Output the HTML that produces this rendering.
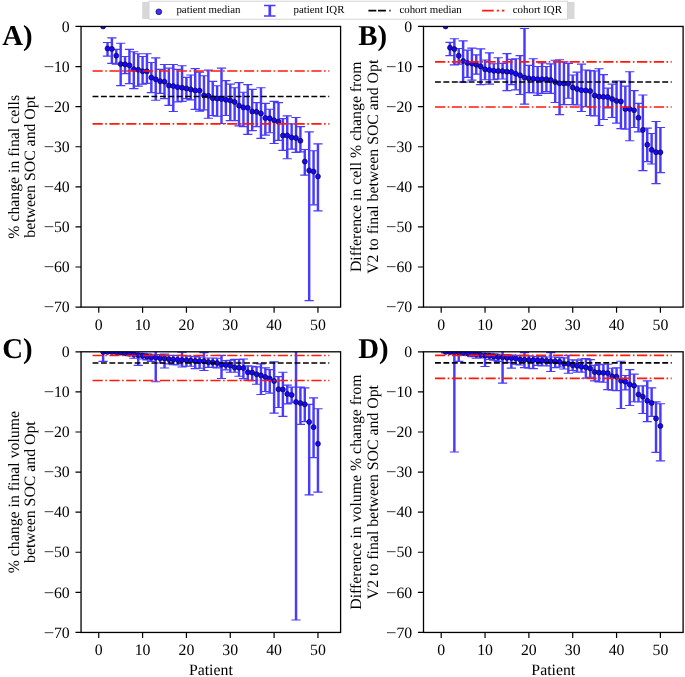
<!DOCTYPE html>
<html lang="en"><head><meta charset="utf-8"><title>Figure</title>
<style>html,body{margin:0;padding:0;background:#fff}body{width:685px;height:677px;overflow:hidden}svg{display:block;will-change:transform}text{font-family:"Liberation Serif", "DejaVu Serif", serif;fill:#000;text-rendering:geometricPrecision}</style></head><body>
<svg width="685" height="677" viewBox="0 0 685 677">
<rect width="685" height="677" fill="#fff"/>
<clipPath id="c00"><rect x="81.05" y="26.45" width="259.55" height="280.65"/></clipPath>
<g clip-path="url(#c00)">
<path d="M107.52 42.49V56.12M111.9 37.88V63.34M116.29 49.3V64.14M120.67 43.29V85.59M125.05 56.52V73.64M129.44 49.3V83.66M133.82 51.71V88.59M138.21 53.71V86.19M142.59 56.52V84.18M146.97 53.71V83.38M151.36 62.53V92.6M155.74 57.92V100.22M160.13 69.35V93.41M164.51 64.54V98.62M168.89 68.15V105.43M173.28 64.54V111.45M177.66 69.35V101.82M182.05 65.74V101.42M186.43 77.37V98.62M190.81 74.96V99.82M195.2 68.55V109.44M199.58 72.16V111.05M203.97 75.76V109.84M208.35 70.15V118.26M212.73 81.38V115.46M217.12 85.79V116.26M221.5 68.15V123.47M225.89 80.58V115.46M230.27 84.18V120.67M234.65 87.79V120.67M239.04 82.58V125.88M243.42 92.2V126.68M247.81 84.58V134.3M252.19 89.4V130.69M256.57 102.63V126.68M260.96 87.79V138.31M265.34 103.43V135.1M269.73 109.24V132.7M274.11 101.42V143.52M278.49 102.63V140.31M282.88 118.66V150.34M287.26 115.86V158.76M291.65 123.88V149.13M296.03 117.46V152.34M300.41 126.68V151.94M304.8 149.54V175.19M309.18 131.89V300.69M313.57 150.74V204.86M317.95 143.92V210.88" fill="none" stroke="rgb(72,58,255)" stroke-width="2.45"/>
<path d="M102.92 42.49H112.12M102.92 56.12H112.12M107.3 37.88H116.5M107.3 63.34H116.5M111.69 49.3H120.89M111.69 64.14H120.89M116.07 43.29H125.27M116.07 85.59H125.27M120.45 56.52H129.65M120.45 73.64H129.65M124.84 49.3H134.04M124.84 83.66H134.04M129.22 51.71H138.42M129.22 88.59H138.42M133.61 53.71H142.81M133.61 86.19H142.81M137.99 56.52H147.19M137.99 84.18H147.19M142.37 53.71H151.57M142.37 83.38H151.57M146.76 62.53H155.96M146.76 92.6H155.96M151.14 57.92H160.34M151.14 100.22H160.34M155.53 69.35H164.73M155.53 93.41H164.73M159.91 64.54H169.11M159.91 98.62H169.11M164.29 68.15H173.49M164.29 105.43H173.49M168.68 64.54H177.88M168.68 111.45H177.88M173.06 69.35H182.26M173.06 101.82H182.26M177.45 65.74H186.65M177.45 101.42H186.65M181.83 77.37H191.03M181.83 98.62H191.03M186.21 74.96H195.41M186.21 99.82H195.41M190.6 68.55H199.8M190.6 109.44H199.8M194.98 72.16H204.18M194.98 111.05H204.18M199.37 75.76H208.57M199.37 109.84H208.57M203.75 70.15H212.95M203.75 118.26H212.95M208.13 81.38H217.33M208.13 115.46H217.33M212.52 85.79H221.72M212.52 116.26H221.72M216.9 68.15H226.1M216.9 123.47H226.1M221.29 80.58H230.49M221.29 115.46H230.49M225.67 84.18H234.87M225.67 120.67H234.87M230.05 87.79H239.25M230.05 120.67H239.25M234.44 82.58H243.64M234.44 125.88H243.64M238.82 92.2H248.02M238.82 126.68H248.02M243.21 84.58H252.41M243.21 134.3H252.41M247.59 89.4H256.79M247.59 130.69H256.79M251.97 102.63H261.17M251.97 126.68H261.17M256.36 87.79H265.56M256.36 138.31H265.56M260.74 103.43H269.94M260.74 135.1H269.94M265.13 109.24H274.33M265.13 132.7H274.33M269.51 101.42H278.71M269.51 143.52H278.71M273.89 102.63H283.09M273.89 140.31H283.09M278.28 118.66H287.48M278.28 150.34H287.48M282.66 115.86H291.86M282.66 158.76H291.86M287.05 123.88H296.25M287.05 149.13H296.25M291.43 117.46H300.63M291.43 152.34H300.63M295.81 126.68H305.01M295.81 151.94H305.01M300.2 149.54H309.4M300.2 175.19H309.4M304.58 131.89H313.78M304.58 300.69H313.78M308.97 150.74H318.17M308.97 204.86H318.17M313.35 143.92H322.55M313.35 210.88H322.55" fill="none" stroke="rgb(72,58,255)" stroke-width="1.15"/>
</g>
<g clip-path="url(#c00)" fill="rgb(24,8,250)" stroke="#000018" stroke-width="0.6">
<circle cx="103.13" cy="26.45" r="2.5"/>
<circle cx="107.52" cy="48.5" r="2.5"/>
<circle cx="111.9" cy="48.9" r="2.5"/>
<circle cx="116.29" cy="55.64" r="2.5"/>
<circle cx="120.67" cy="64.06" r="2.5"/>
<circle cx="125.05" cy="64.34" r="2.5"/>
<circle cx="129.44" cy="65.34" r="2.5"/>
<circle cx="133.82" cy="69.19" r="2.5"/>
<circle cx="138.21" cy="69.75" r="2.5"/>
<circle cx="142.59" cy="71.23" r="2.5"/>
<circle cx="146.97" cy="71.35" r="2.5"/>
<circle cx="151.36" cy="77.53" r="2.5"/>
<circle cx="155.74" cy="79.29" r="2.5"/>
<circle cx="160.13" cy="81.18" r="2.5"/>
<circle cx="164.51" cy="81.66" r="2.5"/>
<circle cx="168.89" cy="85.59" r="2.5"/>
<circle cx="173.28" cy="86.03" r="2.5"/>
<circle cx="177.66" cy="87.15" r="2.5"/>
<circle cx="182.05" cy="87.67" r="2.5"/>
<circle cx="186.43" cy="88.39" r="2.5"/>
<circle cx="190.81" cy="89.4" r="2.5"/>
<circle cx="195.2" cy="90.48" r="2.5"/>
<circle cx="199.58" cy="90.6" r="2.5"/>
<circle cx="203.97" cy="95.41" r="2.5"/>
<circle cx="208.35" cy="95.81" r="2.5"/>
<circle cx="212.73" cy="98.22" r="2.5"/>
<circle cx="217.12" cy="98.54" r="2.5"/>
<circle cx="221.5" cy="99.02" r="2.5"/>
<circle cx="225.89" cy="99.82" r="2.5"/>
<circle cx="230.27" cy="100.42" r="2.5"/>
<circle cx="234.65" cy="102.03" r="2.5"/>
<circle cx="239.04" cy="105.63" r="2.5"/>
<circle cx="243.42" cy="107.44" r="2.5"/>
<circle cx="247.81" cy="107.84" r="2.5"/>
<circle cx="252.19" cy="111.45" r="2.5"/>
<circle cx="256.57" cy="111.85" r="2.5"/>
<circle cx="260.96" cy="113.45" r="2.5"/>
<circle cx="265.34" cy="118.06" r="2.5"/>
<circle cx="269.73" cy="118.26" r="2.5"/>
<circle cx="274.11" cy="120.27" r="2.5"/>
<circle cx="278.49" cy="121.67" r="2.5"/>
<circle cx="282.88" cy="135.5" r="2.5"/>
<circle cx="287.26" cy="135.5" r="2.5"/>
<circle cx="291.65" cy="137.51" r="2.5"/>
<circle cx="296.03" cy="137.91" r="2.5"/>
<circle cx="300.41" cy="140.71" r="2.5"/>
<circle cx="304.8" cy="161.56" r="2.5"/>
<circle cx="309.18" cy="170.38" r="2.5"/>
<circle cx="313.57" cy="171.59" r="2.5"/>
<circle cx="317.95" cy="176.4" r="2.5"/>
</g>
<g clip-path="url(#c00)">
<path d="M92.55 96.49H329.25" stroke="#000" stroke-width="1.6" stroke-dasharray="5.876 2.541" fill="none"/>
<path d="M92.55 70.95H329.25" stroke="#ff1a0a" stroke-width="1.6" stroke-dasharray="10.163 2.541 1.588 2.541" fill="none"/>
<path d="M92.55 123.88H329.25" stroke="#ff1a0a" stroke-width="1.6" stroke-dasharray="10.163 2.541 1.588 2.541" fill="none"/>
</g>
<rect x="81.05" y="26.45" width="259.55" height="280.65" fill="none" stroke="#000" stroke-width="1.3"/>
<path d="M98.75 307.1v5.6M142.59 307.1v5.6M186.43 307.1v5.6M230.27 307.1v5.6M274.11 307.1v5.6M317.95 307.1v5.6M81.05 26.45h-5.6M81.05 66.54h-5.6M81.05 106.64h-5.6M81.05 146.73h-5.6M81.05 186.82h-5.6M81.05 226.91h-5.6M81.05 267.01h-5.6M81.05 307.1h-5.6" stroke="#000" stroke-width="1.2" fill="none"/>
<g font-size="15.8">
<text x="98.75" y="329.8" text-anchor="middle">0</text>
<text x="142.59" y="329.8" text-anchor="middle">10</text>
<text x="186.43" y="329.8" text-anchor="middle">20</text>
<text x="230.27" y="329.8" text-anchor="middle">30</text>
<text x="274.11" y="329.8" text-anchor="middle">40</text>
<text x="317.95" y="329.8" text-anchor="middle">50</text>
<text x="69.75" y="31.65" text-anchor="end">0</text>
<text x="69.75" y="71.74" text-anchor="end">10</text>
<text x="43.65" y="71.74" textLength="10.5" lengthAdjust="spacingAndGlyphs">−</text>
<text x="69.75" y="111.84" text-anchor="end">20</text>
<text x="43.65" y="111.84" textLength="10.5" lengthAdjust="spacingAndGlyphs">−</text>
<text x="69.75" y="151.93" text-anchor="end">30</text>
<text x="43.65" y="151.93" textLength="10.5" lengthAdjust="spacingAndGlyphs">−</text>
<text x="69.75" y="192.02" text-anchor="end">40</text>
<text x="43.65" y="192.02" textLength="10.5" lengthAdjust="spacingAndGlyphs">−</text>
<text x="69.75" y="232.11" text-anchor="end">50</text>
<text x="43.65" y="232.11" textLength="10.5" lengthAdjust="spacingAndGlyphs">−</text>
<text x="69.75" y="272.21" text-anchor="end">60</text>
<text x="43.65" y="272.21" textLength="10.5" lengthAdjust="spacingAndGlyphs">−</text>
<text x="69.75" y="312.3" text-anchor="end">70</text>
<text x="43.65" y="312.3" textLength="10.5" lengthAdjust="spacingAndGlyphs">−</text>
</g>
<text transform="translate(18.65 166.78) rotate(-90)" font-size="15.8" text-anchor="middle">% change in final cells</text>
<text transform="translate(35.25 166.78) rotate(-90)" font-size="15.8" text-anchor="middle">between SOC and Opt</text>
<text x="2.2" y="45.4" font-size="28.8" font-weight="bold">A)</text>
<clipPath id="c10"><rect x="423.5" y="26.45" width="259.6" height="280.65"/></clipPath>
<g clip-path="url(#c10)">
<path d="M449.97 42.37V55.6M454.35 38.76V64.82M458.74 48.5V64.14M463.12 40.88V82.18M467.5 50.1V77.37M471.89 48.1V80.17M476.27 54.8V74.16M480.66 48.9V84.58M485.04 59.97V79.77M489.42 52.91V84.18M493.81 63.74V79.77M498.19 57.72V78.97M502.58 63.34V78.97M506.96 53.59V90.6M511.34 59.33V84.58M515.73 58.76V89.8M520.11 55.64V94.45M524.5 28.45V104.07M528.88 65.34V92.6M533.26 58.76V93M537.65 66.54V95.41M542.03 62.93V93.41M546.42 66.54V91.64M550.8 63.94V93.41M555.18 60.29V102.51M559.57 59.73V114.65M563.95 61.73V104.63M568.34 63.34V98.22M572.72 74.96V104.63M577.1 72.16V105.03M581.49 64.14V111.45M585.87 69.95V106.64M590.26 70.55V115.46M594.64 70.95V115.86M599.02 68.75V125.48M603.41 74.56V119.47M607.79 88.19V107.84M612.18 84.18V117.46M616.56 80.98V123.07M620.94 80.98V128.69M625.33 86.19V129.09M629.71 71.75V140.71M634.1 90.6V127.48M638.48 103.43V131.89M642.86 95.01V170.58M647.25 128.09V161.56M651.63 133.5V163.97M656.02 121.47V183.61M660.4 127.48V172.59" fill="none" stroke="rgb(72,58,255)" stroke-width="2.45"/>
<path d="M445.37 42.37H454.57M445.37 55.6H454.57M449.75 38.76H458.95M449.75 64.82H458.95M454.14 48.5H463.34M454.14 64.14H463.34M458.52 40.88H467.72M458.52 82.18H467.72M462.9 50.1H472.1M462.9 77.37H472.1M467.29 48.1H476.49M467.29 80.17H476.49M471.67 54.8H480.87M471.67 74.16H480.87M476.06 48.9H485.26M476.06 84.58H485.26M480.44 59.97H489.64M480.44 79.77H489.64M484.82 52.91H494.02M484.82 84.18H494.02M489.21 63.74H498.41M489.21 79.77H498.41M493.59 57.72H502.79M493.59 78.97H502.79M497.98 63.34H507.18M497.98 78.97H507.18M502.36 53.59H511.56M502.36 90.6H511.56M506.74 59.33H515.94M506.74 84.58H515.94M511.13 58.76H520.33M511.13 89.8H520.33M515.51 55.64H524.71M515.51 94.45H524.71M519.9 28.45H529.1M519.9 104.07H529.1M524.28 65.34H533.48M524.28 92.6H533.48M528.66 58.76H537.86M528.66 93H537.86M533.05 66.54H542.25M533.05 95.41H542.25M537.43 62.93H546.63M537.43 93.41H546.63M541.82 66.54H551.02M541.82 91.64H551.02M546.2 63.94H555.4M546.2 93.41H555.4M550.58 60.29H559.78M550.58 102.51H559.78M554.97 59.73H564.17M554.97 114.65H564.17M559.35 61.73H568.55M559.35 104.63H568.55M563.74 63.34H572.94M563.74 98.22H572.94M568.12 74.96H577.32M568.12 104.63H577.32M572.5 72.16H581.7M572.5 105.03H581.7M576.89 64.14H586.09M576.89 111.45H586.09M581.27 69.95H590.47M581.27 106.64H590.47M585.66 70.55H594.86M585.66 115.46H594.86M590.04 70.95H599.24M590.04 115.86H599.24M594.42 68.75H603.62M594.42 125.48H603.62M598.81 74.56H608.01M598.81 119.47H608.01M603.19 88.19H612.39M603.19 107.84H612.39M607.58 84.18H616.78M607.58 117.46H616.78M611.96 80.98H621.16M611.96 123.07H621.16M616.34 80.98H625.54M616.34 128.69H625.54M620.73 86.19H629.93M620.73 129.09H629.93M625.11 71.75H634.31M625.11 140.71H634.31M629.5 90.6H638.7M629.5 127.48H638.7M633.88 103.43H643.08M633.88 131.89H643.08M638.26 95.01H647.46M638.26 170.58H647.46M642.65 128.09H651.85M642.65 161.56H651.85M647.03 133.5H656.23M647.03 163.97H656.23M651.42 121.47H660.62M651.42 183.61H660.62M655.8 127.48H665M655.8 172.59H665" fill="none" stroke="rgb(72,58,255)" stroke-width="1.15"/>
</g>
<g clip-path="url(#c10)" fill="rgb(24,8,250)" stroke="#000018" stroke-width="0.6">
<circle cx="445.58" cy="26.45" r="2.5"/>
<circle cx="449.97" cy="47.7" r="2.5"/>
<circle cx="454.35" cy="49.1" r="2.5"/>
<circle cx="458.74" cy="55.72" r="2.5"/>
<circle cx="463.12" cy="60.93" r="2.5"/>
<circle cx="467.5" cy="62.93" r="2.5"/>
<circle cx="471.89" cy="63.58" r="2.5"/>
<circle cx="476.27" cy="64.82" r="2.5"/>
<circle cx="480.66" cy="66.38" r="2.5"/>
<circle cx="485.04" cy="69.35" r="2.5"/>
<circle cx="489.42" cy="69.99" r="2.5"/>
<circle cx="493.81" cy="70.79" r="2.5"/>
<circle cx="498.19" cy="70.95" r="2.5"/>
<circle cx="502.58" cy="71.15" r="2.5"/>
<circle cx="506.96" cy="71.67" r="2.5"/>
<circle cx="511.34" cy="71.88" r="2.5"/>
<circle cx="515.73" cy="73.76" r="2.5"/>
<circle cx="520.11" cy="75.28" r="2.5"/>
<circle cx="524.5" cy="77.57" r="2.5"/>
<circle cx="528.88" cy="78.41" r="2.5"/>
<circle cx="533.26" cy="78.73" r="2.5"/>
<circle cx="537.65" cy="79.13" r="2.5"/>
<circle cx="542.03" cy="79.13" r="2.5"/>
<circle cx="546.42" cy="79.25" r="2.5"/>
<circle cx="550.8" cy="79.93" r="2.5"/>
<circle cx="555.18" cy="82.02" r="2.5"/>
<circle cx="559.57" cy="83.26" r="2.5"/>
<circle cx="563.95" cy="83.38" r="2.5"/>
<circle cx="568.34" cy="83.62" r="2.5"/>
<circle cx="572.72" cy="87.55" r="2.5"/>
<circle cx="577.1" cy="88.99" r="2.5"/>
<circle cx="581.49" cy="90.2" r="2.5"/>
<circle cx="585.87" cy="90.44" r="2.5"/>
<circle cx="590.26" cy="91" r="2.5"/>
<circle cx="594.64" cy="95.41" r="2.5"/>
<circle cx="599.02" cy="96.61" r="2.5"/>
<circle cx="603.41" cy="96.85" r="2.5"/>
<circle cx="607.79" cy="97.01" r="2.5"/>
<circle cx="612.18" cy="99.02" r="2.5"/>
<circle cx="616.56" cy="100.9" r="2.5"/>
<circle cx="620.94" cy="101.42" r="2.5"/>
<circle cx="625.33" cy="109.04" r="2.5"/>
<circle cx="629.71" cy="108.88" r="2.5"/>
<circle cx="634.1" cy="110.24" r="2.5"/>
<circle cx="638.48" cy="117.66" r="2.5"/>
<circle cx="642.86" cy="129.89" r="2.5"/>
<circle cx="647.25" cy="144.72" r="2.5"/>
<circle cx="651.63" cy="149.82" r="2.5"/>
<circle cx="656.02" cy="152.18" r="2.5"/>
<circle cx="660.4" cy="152.34" r="2.5"/>
</g>
<g clip-path="url(#c10)">
<path d="M435 81.98H671.7" stroke="#000" stroke-width="1.6" stroke-dasharray="5.876 2.541" fill="none"/>
<path d="M435 61.85H671.7" stroke="#ff1a0a" stroke-width="1.6" stroke-dasharray="10.163 2.541 1.588 2.541" fill="none"/>
<path d="M435 107.04H671.7" stroke="#ff1a0a" stroke-width="1.6" stroke-dasharray="10.163 2.541 1.588 2.541" fill="none"/>
</g>
<rect x="423.5" y="26.45" width="259.6" height="280.65" fill="none" stroke="#000" stroke-width="1.3"/>
<path d="M441.2 307.1v5.6M485.04 307.1v5.6M528.88 307.1v5.6M572.72 307.1v5.6M616.56 307.1v5.6M660.4 307.1v5.6M423.5 26.45h-5.6M423.5 66.54h-5.6M423.5 106.64h-5.6M423.5 146.73h-5.6M423.5 186.82h-5.6M423.5 226.91h-5.6M423.5 267.01h-5.6M423.5 307.1h-5.6" stroke="#000" stroke-width="1.2" fill="none"/>
<g font-size="15.8">
<text x="441.2" y="329.8" text-anchor="middle">0</text>
<text x="485.04" y="329.8" text-anchor="middle">10</text>
<text x="528.88" y="329.8" text-anchor="middle">20</text>
<text x="572.72" y="329.8" text-anchor="middle">30</text>
<text x="616.56" y="329.8" text-anchor="middle">40</text>
<text x="660.4" y="329.8" text-anchor="middle">50</text>
<text x="412.2" y="31.65" text-anchor="end">0</text>
<text x="412.2" y="71.74" text-anchor="end">10</text>
<text x="386.1" y="71.74" textLength="10.5" lengthAdjust="spacingAndGlyphs">−</text>
<text x="412.2" y="111.84" text-anchor="end">20</text>
<text x="386.1" y="111.84" textLength="10.5" lengthAdjust="spacingAndGlyphs">−</text>
<text x="412.2" y="151.93" text-anchor="end">30</text>
<text x="386.1" y="151.93" textLength="10.5" lengthAdjust="spacingAndGlyphs">−</text>
<text x="412.2" y="192.02" text-anchor="end">40</text>
<text x="386.1" y="192.02" textLength="10.5" lengthAdjust="spacingAndGlyphs">−</text>
<text x="412.2" y="232.11" text-anchor="end">50</text>
<text x="386.1" y="232.11" textLength="10.5" lengthAdjust="spacingAndGlyphs">−</text>
<text x="412.2" y="272.21" text-anchor="end">60</text>
<text x="386.1" y="272.21" textLength="10.5" lengthAdjust="spacingAndGlyphs">−</text>
<text x="412.2" y="312.3" text-anchor="end">70</text>
<text x="386.1" y="312.3" textLength="10.5" lengthAdjust="spacingAndGlyphs">−</text>
</g>
<text transform="translate(361.1 166.78) rotate(-90)" font-size="15.8" text-anchor="middle">Difference in cell % change from</text>
<text transform="translate(377.7 166.78) rotate(-90)" font-size="15.8" text-anchor="middle">V2 to final between SOC and Opt</text>
<text x="358.2" y="45.4" font-size="28.8" font-weight="bold">B)</text>
<clipPath id="c01"><rect x="81.05" y="351.8" width="259.55" height="280.65"/></clipPath>
<g clip-path="url(#c01)">
<path d="M103.13 347.79V361.42M107.52 351.8V353M111.9 351.8V353.2M116.29 351.8V353.6M120.67 352V354.21M125.05 352.2V355.01M129.44 352.6V355.61M133.82 352.8V358.21M138.21 353V365.43M142.59 353.4V359.02M146.97 353.8V359.82M151.36 354.21V361.42M155.74 347.79V381.71M160.13 354.61V363.03M164.51 354.01V368.04M168.89 355.41V363.83M173.28 355.41V364.63M177.66 355.41V365.03M182.05 352.2V367.04M186.43 355.81V366.23M190.81 356.21V366.23M195.2 356.61V368.64M199.58 357.01V368.24M203.97 352.6V370.48M208.35 358.01V367.44M212.73 358.01V367.44M217.12 358.21V367.84M221.5 355.41V378.46M225.89 360.62V369.84M230.27 360.22V372.25M234.65 359.42V372.25M239.04 359.42V376.26M243.42 359.02V378.66M247.81 365.83V380.27M252.19 366.23V380.67M256.57 366.83V384.28M260.96 363.83V394.5M265.34 367.84V391.49M269.73 369.64V393.1M274.11 361.82V413.14M278.49 376.66V407.53M282.88 372.25V416.35M287.26 385.08V403.92M291.65 387.08V402.72M296.03 347.79V620.02M300.41 387.08V424.37M304.8 387.88V421.56M309.18 404.32V494.93M313.57 397.91V457.65M317.95 408.73V492.12" fill="none" stroke="rgb(72,58,255)" stroke-width="2.45"/>
<path d="M98.53 347.79H107.73M98.53 361.42H107.73M102.92 351.8H112.12M102.92 353H112.12M107.3 351.8H116.5M107.3 353.2H116.5M111.69 351.8H120.89M111.69 353.6H120.89M116.07 352H125.27M116.07 354.21H125.27M120.45 352.2H129.65M120.45 355.01H129.65M124.84 352.6H134.04M124.84 355.61H134.04M129.22 352.8H138.42M129.22 358.21H138.42M133.61 353H142.81M133.61 365.43H142.81M137.99 353.4H147.19M137.99 359.02H147.19M142.37 353.8H151.57M142.37 359.82H151.57M146.76 354.21H155.96M146.76 361.42H155.96M151.14 347.79H160.34M151.14 381.71H160.34M155.53 354.61H164.73M155.53 363.03H164.73M159.91 354.01H169.11M159.91 368.04H169.11M164.29 355.41H173.49M164.29 363.83H173.49M168.68 355.41H177.88M168.68 364.63H177.88M173.06 355.41H182.26M173.06 365.03H182.26M177.45 352.2H186.65M177.45 367.04H186.65M181.83 355.81H191.03M181.83 366.23H191.03M186.21 356.21H195.41M186.21 366.23H195.41M190.6 356.61H199.8M190.6 368.64H199.8M194.98 357.01H204.18M194.98 368.24H204.18M199.37 352.6H208.57M199.37 370.48H208.57M203.75 358.01H212.95M203.75 367.44H212.95M208.13 358.01H217.33M208.13 367.44H217.33M212.52 358.21H221.72M212.52 367.84H221.72M216.9 355.41H226.1M216.9 378.46H226.1M221.29 360.62H230.49M221.29 369.84H230.49M225.67 360.22H234.87M225.67 372.25H234.87M230.05 359.42H239.25M230.05 372.25H239.25M234.44 359.42H243.64M234.44 376.26H243.64M238.82 359.02H248.02M238.82 378.66H248.02M243.21 365.83H252.41M243.21 380.27H252.41M247.59 366.23H256.79M247.59 380.67H256.79M251.97 366.83H261.17M251.97 384.28H261.17M256.36 363.83H265.56M256.36 394.5H265.56M260.74 367.84H269.94M260.74 391.49H269.94M265.13 369.64H274.33M265.13 393.1H274.33M269.51 361.82H278.71M269.51 413.14H278.71M273.89 376.66H283.09M273.89 407.53H283.09M278.28 372.25H287.48M278.28 416.35H287.48M282.66 385.08H291.86M282.66 403.92H291.86M287.05 387.08H296.25M287.05 402.72H296.25M291.43 347.79H300.63M291.43 620.02H300.63M295.81 387.08H305.01M295.81 424.37H305.01M300.2 387.88H309.4M300.2 421.56H309.4M304.58 404.32H313.78M304.58 494.93H313.78M308.97 397.91H318.17M308.97 457.65H318.17M313.35 408.73H322.55M313.35 492.12H322.55" fill="none" stroke="rgb(72,58,255)" stroke-width="1.15"/>
</g>
<g clip-path="url(#c01)" fill="rgb(24,8,250)" stroke="#000018" stroke-width="0.6">
<circle cx="103.13" cy="351.88" r="2.5"/>
<circle cx="107.52" cy="351.96" r="2.5"/>
<circle cx="111.9" cy="352.04" r="2.5"/>
<circle cx="116.29" cy="352.2" r="2.5"/>
<circle cx="120.67" cy="352.4" r="2.5"/>
<circle cx="125.05" cy="353" r="2.5"/>
<circle cx="129.44" cy="353.8" r="2.5"/>
<circle cx="133.82" cy="354.21" r="2.5"/>
<circle cx="138.21" cy="355.21" r="2.5"/>
<circle cx="142.59" cy="355.73" r="2.5"/>
<circle cx="146.97" cy="356.61" r="2.5"/>
<circle cx="151.36" cy="357.33" r="2.5"/>
<circle cx="155.74" cy="357.53" r="2.5"/>
<circle cx="160.13" cy="358.21" r="2.5"/>
<circle cx="164.51" cy="358.42" r="2.5"/>
<circle cx="168.89" cy="359.14" r="2.5"/>
<circle cx="173.28" cy="359.42" r="2.5"/>
<circle cx="177.66" cy="359.74" r="2.5"/>
<circle cx="182.05" cy="360.02" r="2.5"/>
<circle cx="186.43" cy="360.22" r="2.5"/>
<circle cx="190.81" cy="360.62" r="2.5"/>
<circle cx="195.2" cy="360.9" r="2.5"/>
<circle cx="199.58" cy="361.14" r="2.5"/>
<circle cx="203.97" cy="361.14" r="2.5"/>
<circle cx="208.35" cy="362.22" r="2.5"/>
<circle cx="212.73" cy="362.42" r="2.5"/>
<circle cx="217.12" cy="362.95" r="2.5"/>
<circle cx="221.5" cy="364.79" r="2.5"/>
<circle cx="225.89" cy="365.03" r="2.5"/>
<circle cx="230.27" cy="365.51" r="2.5"/>
<circle cx="234.65" cy="367.44" r="2.5"/>
<circle cx="239.04" cy="367.68" r="2.5"/>
<circle cx="243.42" cy="368.12" r="2.5"/>
<circle cx="247.81" cy="372.25" r="2.5"/>
<circle cx="252.19" cy="372.57" r="2.5"/>
<circle cx="256.57" cy="374.25" r="2.5"/>
<circle cx="260.96" cy="375.33" r="2.5"/>
<circle cx="265.34" cy="377.06" r="2.5"/>
<circle cx="269.73" cy="378.54" r="2.5"/>
<circle cx="274.11" cy="381.07" r="2.5"/>
<circle cx="278.49" cy="389.21" r="2.5"/>
<circle cx="282.88" cy="389.49" r="2.5"/>
<circle cx="287.26" cy="393.9" r="2.5"/>
<circle cx="291.65" cy="394.9" r="2.5"/>
<circle cx="296.03" cy="401.92" r="2.5"/>
<circle cx="300.41" cy="403.12" r="2.5"/>
<circle cx="304.8" cy="404.32" r="2.5"/>
<circle cx="309.18" cy="421.96" r="2.5"/>
<circle cx="313.57" cy="427.17" r="2.5"/>
<circle cx="317.95" cy="443.81" r="2.5"/>
</g>
<g clip-path="url(#c01)">
<path d="M92.55 362.95H329.25" stroke="#000" stroke-width="1.6" stroke-dasharray="5.876 2.541" fill="none"/>
<path d="M92.55 355.53H329.25" stroke="#ff1a0a" stroke-width="1.6" stroke-dasharray="10.163 2.541 1.588 2.541" fill="none"/>
<path d="M92.55 380.47H329.25" stroke="#ff1a0a" stroke-width="1.6" stroke-dasharray="10.163 2.541 1.588 2.541" fill="none"/>
</g>
<rect x="81.05" y="351.8" width="259.55" height="280.65" fill="none" stroke="#000" stroke-width="1.3"/>
<path d="M98.75 632.45v5.6M142.59 632.45v5.6M186.43 632.45v5.6M230.27 632.45v5.6M274.11 632.45v5.6M317.95 632.45v5.6M81.05 351.8h-5.6M81.05 391.89h-5.6M81.05 431.99h-5.6M81.05 472.08h-5.6M81.05 512.17h-5.6M81.05 552.26h-5.6M81.05 592.36h-5.6M81.05 632.45h-5.6" stroke="#000" stroke-width="1.2" fill="none"/>
<g font-size="15.8">
<text x="98.75" y="655.15" text-anchor="middle">0</text>
<text x="142.59" y="655.15" text-anchor="middle">10</text>
<text x="186.43" y="655.15" text-anchor="middle">20</text>
<text x="230.27" y="655.15" text-anchor="middle">30</text>
<text x="274.11" y="655.15" text-anchor="middle">40</text>
<text x="317.95" y="655.15" text-anchor="middle">50</text>
<text x="69.75" y="357" text-anchor="end">0</text>
<text x="69.75" y="397.09" text-anchor="end">10</text>
<text x="43.65" y="397.09" textLength="10.5" lengthAdjust="spacingAndGlyphs">−</text>
<text x="69.75" y="437.19" text-anchor="end">20</text>
<text x="43.65" y="437.19" textLength="10.5" lengthAdjust="spacingAndGlyphs">−</text>
<text x="69.75" y="477.28" text-anchor="end">30</text>
<text x="43.65" y="477.28" textLength="10.5" lengthAdjust="spacingAndGlyphs">−</text>
<text x="69.75" y="517.37" text-anchor="end">40</text>
<text x="43.65" y="517.37" textLength="10.5" lengthAdjust="spacingAndGlyphs">−</text>
<text x="69.75" y="557.46" text-anchor="end">50</text>
<text x="43.65" y="557.46" textLength="10.5" lengthAdjust="spacingAndGlyphs">−</text>
<text x="69.75" y="597.56" text-anchor="end">60</text>
<text x="43.65" y="597.56" textLength="10.5" lengthAdjust="spacingAndGlyphs">−</text>
<text x="69.75" y="637.65" text-anchor="end">70</text>
<text x="43.65" y="637.65" textLength="10.5" lengthAdjust="spacingAndGlyphs">−</text>
</g>
<text x="210.83" y="675.25" font-size="15.8" text-anchor="middle">Patient</text>
<text transform="translate(18.65 492.12) rotate(-90)" font-size="15.8" text-anchor="middle">% change in final volume</text>
<text transform="translate(35.25 492.12) rotate(-90)" font-size="15.8" text-anchor="middle">between SOC and Opt</text>
<text x="2.2" y="358" font-size="28.8" font-weight="bold">C)</text>
<clipPath id="c11"><rect x="423.5" y="351.8" width="259.6" height="280.65"/></clipPath>
<g clip-path="url(#c11)">
<path d="M445.58 351.8V353M449.97 351.8V353.4M454.35 347.79V452.03M458.74 351.8V361.42M463.12 352.2V354.61M467.5 352.2V355.41M471.89 352.6V356.61M476.27 352.6V358.21M480.66 353V357.81M485.04 353V366.51M489.42 353.4V359.42M493.81 353.8V360.22M498.19 354.21V361.42M502.58 347.79V383.07M506.96 354.61V362.63M511.34 355.01V368.08M515.73 355.41V364.23M520.11 355.81V365.03M524.5 352.6V367.68M528.88 355.81V368.24M533.26 356.21V368.64M537.65 356.61V365.43M542.03 356.61V365.83M546.42 357.01V365.83M550.8 352.6V371.45M555.18 357.01V367.68M559.57 357.41V367.04M563.95 357.81V369.04M568.34 355.41V373.29M572.72 359.82V370.48M577.1 360.22V372.05M581.49 359.02V372.05M585.87 358.62V378.26M590.26 359.58V377.26M594.64 365.31V380.83M599.02 364.63V381.87M603.41 364.23V382.27M607.79 364.23V389.65M612.18 368.24V390.29M616.56 367.84V390.69M620.94 361.22V408.53M625.33 375.45V389.89M629.71 369.6V405.52M634.1 374.13V401.72M638.48 385.88V401.92M642.86 385.88V413.54M647.25 380.91V421.56M651.63 387.88V416.35M656.02 401.92V452.43M660.4 403.72V460.85" fill="none" stroke="rgb(72,58,255)" stroke-width="2.45"/>
<path d="M440.98 351.8H450.18M440.98 353H450.18M445.37 351.8H454.57M445.37 353.4H454.57M449.75 347.79H458.95M449.75 452.03H458.95M454.14 351.8H463.34M454.14 361.42H463.34M458.52 352.2H467.72M458.52 354.61H467.72M462.9 352.2H472.1M462.9 355.41H472.1M467.29 352.6H476.49M467.29 356.61H476.49M471.67 352.6H480.87M471.67 358.21H480.87M476.06 353H485.26M476.06 357.81H485.26M480.44 353H489.64M480.44 366.51H489.64M484.82 353.4H494.02M484.82 359.42H494.02M489.21 353.8H498.41M489.21 360.22H498.41M493.59 354.21H502.79M493.59 361.42H502.79M497.98 347.79H507.18M497.98 383.07H507.18M502.36 354.61H511.56M502.36 362.63H511.56M506.74 355.01H515.94M506.74 368.08H515.94M511.13 355.41H520.33M511.13 364.23H520.33M515.51 355.81H524.71M515.51 365.03H524.71M519.9 352.6H529.1M519.9 367.68H529.1M524.28 355.81H533.48M524.28 368.24H533.48M528.66 356.21H537.86M528.66 368.64H537.86M533.05 356.61H542.25M533.05 365.43H542.25M537.43 356.61H546.63M537.43 365.83H546.63M541.82 357.01H551.02M541.82 365.83H551.02M546.2 352.6H555.4M546.2 371.45H555.4M550.58 357.01H559.78M550.58 367.68H559.78M554.97 357.41H564.17M554.97 367.04H564.17M559.35 357.81H568.55M559.35 369.04H568.55M563.74 355.41H572.94M563.74 373.29H572.94M568.12 359.82H577.32M568.12 370.48H577.32M572.5 360.22H581.7M572.5 372.05H581.7M576.89 359.02H586.09M576.89 372.05H586.09M581.27 358.62H590.47M581.27 378.26H590.47M585.66 359.58H594.86M585.66 377.26H594.86M590.04 365.31H599.24M590.04 380.83H599.24M594.42 364.63H603.62M594.42 381.87H603.62M598.81 364.23H608.01M598.81 382.27H608.01M603.19 364.23H612.39M603.19 389.65H612.39M607.58 368.24H616.78M607.58 390.29H616.78M611.96 367.84H621.16M611.96 390.69H621.16M616.34 361.22H625.54M616.34 408.53H625.54M620.73 375.45H629.93M620.73 389.89H629.93M625.11 369.6H634.31M625.11 405.52H634.31M629.5 374.13H638.7M629.5 401.72H638.7M633.88 385.88H643.08M633.88 401.92H643.08M638.26 385.88H647.46M638.26 413.54H647.46M642.65 380.91H651.85M642.65 421.56H651.85M647.03 387.88H656.23M647.03 416.35H656.23M651.42 401.92H660.62M651.42 452.43H660.62M655.8 403.72H665M655.8 460.85H665" fill="none" stroke="rgb(72,58,255)" stroke-width="1.15"/>
</g>
<g clip-path="url(#c11)" fill="rgb(24,8,250)" stroke="#000018" stroke-width="0.6">
<circle cx="445.58" cy="352" r="2.5"/>
<circle cx="449.97" cy="352.2" r="2.5"/>
<circle cx="454.35" cy="352.4" r="2.5"/>
<circle cx="458.74" cy="352.6" r="2.5"/>
<circle cx="463.12" cy="353" r="2.5"/>
<circle cx="467.5" cy="353.4" r="2.5"/>
<circle cx="471.89" cy="353.8" r="2.5"/>
<circle cx="476.27" cy="354.21" r="2.5"/>
<circle cx="480.66" cy="354.93" r="2.5"/>
<circle cx="485.04" cy="355.41" r="2.5"/>
<circle cx="489.42" cy="355.81" r="2.5"/>
<circle cx="493.81" cy="356.45" r="2.5"/>
<circle cx="498.19" cy="357.01" r="2.5"/>
<circle cx="502.58" cy="357.29" r="2.5"/>
<circle cx="506.96" cy="357.73" r="2.5"/>
<circle cx="511.34" cy="358.01" r="2.5"/>
<circle cx="515.73" cy="358.54" r="2.5"/>
<circle cx="520.11" cy="359.58" r="2.5"/>
<circle cx="524.5" cy="359.82" r="2.5"/>
<circle cx="528.88" cy="359.94" r="2.5"/>
<circle cx="533.26" cy="360.1" r="2.5"/>
<circle cx="537.65" cy="360.34" r="2.5"/>
<circle cx="542.03" cy="360.62" r="2.5"/>
<circle cx="546.42" cy="360.82" r="2.5"/>
<circle cx="550.8" cy="361.14" r="2.5"/>
<circle cx="555.18" cy="361.42" r="2.5"/>
<circle cx="559.57" cy="361.66" r="2.5"/>
<circle cx="563.95" cy="363.63" r="2.5"/>
<circle cx="568.34" cy="363.75" r="2.5"/>
<circle cx="572.72" cy="365.31" r="2.5"/>
<circle cx="577.1" cy="365.83" r="2.5"/>
<circle cx="581.49" cy="366.63" r="2.5"/>
<circle cx="585.87" cy="367.36" r="2.5"/>
<circle cx="590.26" cy="368.4" r="2.5"/>
<circle cx="594.64" cy="372.05" r="2.5"/>
<circle cx="599.02" cy="372.57" r="2.5"/>
<circle cx="603.41" cy="372.85" r="2.5"/>
<circle cx="607.79" cy="373.05" r="2.5"/>
<circle cx="612.18" cy="376.26" r="2.5"/>
<circle cx="616.56" cy="376.66" r="2.5"/>
<circle cx="620.94" cy="380.67" r="2.5"/>
<circle cx="625.33" cy="381.67" r="2.5"/>
<circle cx="629.71" cy="384.52" r="2.5"/>
<circle cx="634.1" cy="385.64" r="2.5"/>
<circle cx="638.48" cy="394.46" r="2.5"/>
<circle cx="642.86" cy="396.7" r="2.5"/>
<circle cx="647.25" cy="400.71" r="2.5"/>
<circle cx="651.63" cy="402.96" r="2.5"/>
<circle cx="656.02" cy="418.55" r="2.5"/>
<circle cx="660.4" cy="425.97" r="2.5"/>
</g>
<g clip-path="url(#c11)">
<path d="M435 362.83H671.7" stroke="#000" stroke-width="1.6" stroke-dasharray="5.876 2.541" fill="none"/>
<path d="M435 355.33H671.7" stroke="#ff1a0a" stroke-width="1.6" stroke-dasharray="10.163 2.541 1.588 2.541" fill="none"/>
<path d="M435 378.34H671.7" stroke="#ff1a0a" stroke-width="1.6" stroke-dasharray="10.163 2.541 1.588 2.541" fill="none"/>
</g>
<rect x="423.5" y="351.8" width="259.6" height="280.65" fill="none" stroke="#000" stroke-width="1.3"/>
<path d="M441.2 632.45v5.6M485.04 632.45v5.6M528.88 632.45v5.6M572.72 632.45v5.6M616.56 632.45v5.6M660.4 632.45v5.6M423.5 351.8h-5.6M423.5 391.89h-5.6M423.5 431.99h-5.6M423.5 472.08h-5.6M423.5 512.17h-5.6M423.5 552.26h-5.6M423.5 592.36h-5.6M423.5 632.45h-5.6" stroke="#000" stroke-width="1.2" fill="none"/>
<g font-size="15.8">
<text x="441.2" y="655.15" text-anchor="middle">0</text>
<text x="485.04" y="655.15" text-anchor="middle">10</text>
<text x="528.88" y="655.15" text-anchor="middle">20</text>
<text x="572.72" y="655.15" text-anchor="middle">30</text>
<text x="616.56" y="655.15" text-anchor="middle">40</text>
<text x="660.4" y="655.15" text-anchor="middle">50</text>
<text x="412.2" y="357" text-anchor="end">0</text>
<text x="412.2" y="397.09" text-anchor="end">10</text>
<text x="386.1" y="397.09" textLength="10.5" lengthAdjust="spacingAndGlyphs">−</text>
<text x="412.2" y="437.19" text-anchor="end">20</text>
<text x="386.1" y="437.19" textLength="10.5" lengthAdjust="spacingAndGlyphs">−</text>
<text x="412.2" y="477.28" text-anchor="end">30</text>
<text x="386.1" y="477.28" textLength="10.5" lengthAdjust="spacingAndGlyphs">−</text>
<text x="412.2" y="517.37" text-anchor="end">40</text>
<text x="386.1" y="517.37" textLength="10.5" lengthAdjust="spacingAndGlyphs">−</text>
<text x="412.2" y="557.46" text-anchor="end">50</text>
<text x="386.1" y="557.46" textLength="10.5" lengthAdjust="spacingAndGlyphs">−</text>
<text x="412.2" y="597.56" text-anchor="end">60</text>
<text x="386.1" y="597.56" textLength="10.5" lengthAdjust="spacingAndGlyphs">−</text>
<text x="412.2" y="637.65" text-anchor="end">70</text>
<text x="386.1" y="637.65" textLength="10.5" lengthAdjust="spacingAndGlyphs">−</text>
</g>
<text x="553.3" y="675.25" font-size="15.8" text-anchor="middle">Patient</text>
<text transform="translate(361.1 492.12) rotate(-90)" font-size="15.8" text-anchor="middle">Difference in volume % change from</text>
<text transform="translate(377.7 492.12) rotate(-90)" font-size="15.8" text-anchor="middle">V2 to final between SOC and Opt</text>
<text x="358.2" y="358" font-size="28.8" font-weight="bold">D)</text>
<rect x="142.2" y="2" width="432.3" height="17" fill="#d8d8d8"/>
<rect x="149" y="1.2" width="418.4" height="18" fill="#fff" stroke="#d0d0d0" stroke-width="0.9"/>
<circle cx="158.8" cy="11.8" r="2.85" fill="rgb(66,50,255)" stroke="#00004a" stroke-width="0.7"/>
<path d="M269.8 5.4V15.9" stroke="rgb(72,58,255)" stroke-width="2.7" fill="none"/><path d="M264 5.4h11.5M264 15.9h11.5" stroke="rgb(72,58,255)" stroke-width="1.5" fill="none"/>
<path d="M368.4 10.6H376.3M378 10.6H385.9M389.4 10.6H390.6" stroke="#000" stroke-width="1.6" fill="none"/>
<path d="M482.1 10.6H493.7M496.8 10.6H498.9M501.9 10.6H504.4" stroke="#ff1a0a" stroke-width="1.6" fill="none"/>
<g font-size="10.85">
<text x="176.4" y="13.4">patient median</text>
<text x="293.5" y="13.4">patient IQR</text>
<text x="399.4" y="13.4">cohort median</text>
<text x="512.8" y="13.4">cohort IQR</text>
</g>
</svg></body></html>
